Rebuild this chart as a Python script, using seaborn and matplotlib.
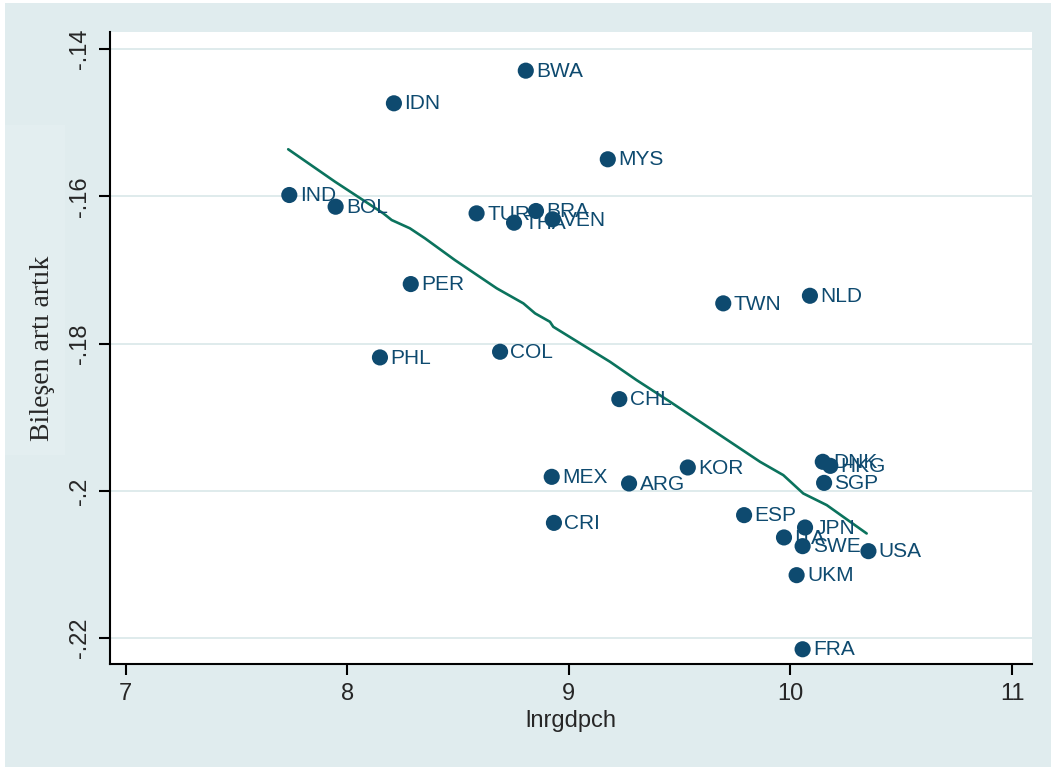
import matplotlib
matplotlib.use("Agg")
import matplotlib.pyplot as plt
from matplotlib.patches import Rectangle
import pandas as pd
import seaborn as sns

# country codes and values
countries = ["BWA", "IDN", "MYS", "IND", "BOL", "TUR", "BRA", "THA", "VEN",
             "PER", "TWN", "NLD", "PHL", "COL", "CHL", "DNK", "HKG", "SGP",
             "KOR", "MEX", "ARG", "ESP", "JPN", "ITA", "SWE", "USA", "CRI",
             "UKM", "FRA"]
lnrgdpch = [8.806, 8.211, 9.176, 7.739, 7.948, 8.584, 8.852, 8.753, 8.927,
            8.287, 9.697, 10.088, 8.148, 8.690, 9.228, 10.146, 10.180, 10.152,
            9.537, 8.923, 9.272, 9.791, 10.066, 9.971, 10.055, 10.352, 8.933,
            10.028, 10.055]
cpr = [-0.14295, -0.14738, -0.15498, -0.15983, -0.16142, -0.16232, -0.16200,
       -0.16359, -0.16313, -0.17192, -0.17454, -0.17351, -0.18188, -0.18111,
       -0.18754, -0.19605, -0.19660, -0.19891, -0.19682, -0.19809, -0.19899,
       -0.20329, -0.20497, -0.20632, -0.20750, -0.20818, -0.20434, -0.21144,
       -0.22150]

# smoothed line
smooth_x = [7.734, 7.945, 8.163, 8.201, 8.283, 8.351, 8.486, 8.675, 8.795,
            8.848, 8.915, 8.930, 9.186, 9.306, 9.457, 9.728, 9.863, 9.968,
            10.058, 10.164, 10.344]
smooth_y = [-0.15362, -0.15802, -0.16232, -0.16323, -0.16435, -0.16571,
            -0.16866, -0.17250, -0.17454, -0.17590, -0.17704, -0.17772,
            -0.18247, -0.18496, -0.18790, -0.19334, -0.19605, -0.19786,
            -0.20035, -0.20193, -0.20578]

x_ticks = [7, 8, 9, 10, 11]
y_ticks = [-0.14, -0.16, -0.18, -0.20, -0.22]
y_tick_labels = ["-.14", "-.16", "-.18", "-.2", "-.22"]

navy = "#0E4A6F"
green = "#0B735D"
bg = "#E0ECEE"

sns.set_style("white")
plt.rcParams["font.family"] = ["Liberation Sans", "DejaVu Sans"]

points = pd.DataFrame({"country": countries, "lnrgdpch": lnrgdpch, "cpr": cpr})
smooth = pd.DataFrame({"lnrgdpch": smooth_x, "cpr": smooth_y})

fig = plt.figure(figsize=(10.51, 7.67), dpi=100, facecolor="white")
fig.patches.append(Rectangle((5 / 1051, 0), 1, 1 - 3 / 767, transform=fig.transFigure,
                             facecolor=bg, edgecolor="none", zorder=-10))
fig.patches.append(Rectangle((5 / 1051, 1 - 455 / 767), 60 / 1051, 330 / 767,
                             transform=fig.transFigure, facecolor="#E3EEF0",
                             edgecolor="none", zorder=-9))

ax = fig.add_axes([110 / 1051, 1 - 664 / 767, 922 / 1051, 632 / 767])
ax.set_facecolor("white")

for y in y_ticks:
    ax.axhline(y, color="#DCE9EB", lw=1.3, zorder=0)

sns.scatterplot(data=points, x="lnrgdpch", y="cpr", ax=ax, color=navy, s=135,
                edgecolor="none", zorder=3, legend=False)
sns.lineplot(data=smooth, x="lnrgdpch", y="cpr", ax=ax, color=green, lw=1.9,
             sort=False, estimator=None, zorder=2)

for _, row in points.iterrows():
    ax.annotate(row["country"], (row["lnrgdpch"], row["cpr"]), xytext=(7.5, -0.5),
                textcoords="offset points", va="center", ha="left",
                fontsize=15, color=navy, zorder=4)

ax.set_xlim(6.930, 11.09)
ax.set_ylim(-0.2235, -0.1377)
ax.set_xticks(x_ticks)
ax.set_xticklabels([str(t) for t in x_ticks], fontsize=17)
ax.set_yticks(y_ticks)
ax.set_yticklabels(y_tick_labels, fontsize=17, rotation=90, va="center")
ax.tick_params(axis="both", direction="out", length=8, width=1.5, color="black",
               pad=6, left=True, bottom=True)

for side in ["top", "right"]:
    ax.spines[side].set_visible(False)
for side in ["left", "bottom"]:
    ax.spines[side].set_color("black")
    ax.spines[side].set_linewidth(1.5)

ax.set_xlabel("lnrgdpch", fontsize=17, labelpad=3)
ax.set_ylabel("Bileşen artı artık", fontsize=20, labelpad=10,
              family=["Liberation Serif", "DejaVu Serif"])

fig.savefig("out.png", dpi=100, facecolor=fig.get_facecolor())
